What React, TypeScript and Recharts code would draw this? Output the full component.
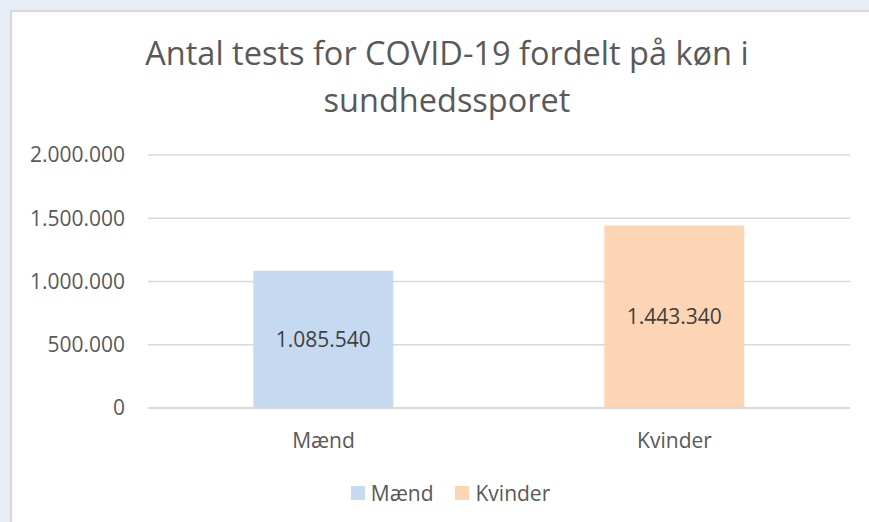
import React from "react";
import { BarChart, Bar, XAxis, YAxis, CartesianGrid, LabelList } from "recharts";

const categories = ["Mænd", "Kvinder"];
const tests = [1085540, 1443340];
const yTicks = [0, 500000, 1000000, 1500000, 2000000];
const seriesColors = ["#c5d9f1", "#fcd5b4"];

const FONT = "'Open Sans', sans-serif";
const GREY = "#595959";

// dansk tusindtalsseparator
const fmt = (v: unknown) => {
  if (v === null || v === undefined || v === "") return "";
  return String(v).replace(/\B(?=(\d{3})+(?!\d))/g, ".");
};

// hver kategori som sin egen serie, stablet, så bjælken står midt i kategorien
const rows = categories.map((c, i) => {
  const row: Record<string, string | number | null> = { name: c };
  categories.forEach((k) => {
    row[k] = k === c ? tests[i] : null;
  });
  return row;
});

// legenden tegnes udenfor diagrammet, så den ikke skubber plotområdet op
function LegendRow() {
  return (
    <div
      style={{
        position: "absolute",
        left: 16,
        top: 479,
        width: 869,
        display: "flex",
        justifyContent: "center",
        alignItems: "center",
        gap: 22,
        fontFamily: FONT,
        fontSize: 21,
        color: GREY,
      }}
    >
      {categories.map((c, i) => (
        <div key={c} style={{ display: "flex", alignItems: "center" }}>
          <span style={{ display: "inline-block", width: 14, height: 14, background: seriesColors[i], marginRight: 6 }} />
          <span style={{ lineHeight: "28px" }}>{c}</span>
        </div>
      ))}
    </div>
  );
}

export default function App() {
  return (
    <div style={{ position: "absolute", left: 0, top: 0, width: 869, height: 522, overflow: "hidden", background: "#e7edf6" }}>
      <div style={{ position: "absolute", left: 10, top: 10, width: 900, height: 560, background: "#fff", border: "2px solid #d9d9d9", boxSizing: "border-box" }} />
      <div
        style={{
          position: "absolute",
          left: 10,
          top: 29,
          width: 874,
          textAlign: "center",
          fontFamily: FONT,
          fontSize: 32.5,
          lineHeight: "47px",
          color: GREY,
        }}
      >
        Antal tests for COVID-19 fordelt på køn i<br />
        sundhedssporet
      </div>
      <div style={{ position: "absolute", left: 0, top: 0 }}>
        <BarChart width={869} height={522} data={rows} margin={{ top: 155, right: 19, bottom: 84, left: 0 }} barCategoryGap="30%">
          <CartesianGrid vertical={false} stroke="#d9d9d9" strokeWidth={1.3} />
          <XAxis
            dataKey="name"
            height={30}
            axisLine={{ stroke: "#d9d9d9", strokeWidth: 2 }}
            tickLine={false}
            tickSize={0}
            tickMargin={25}
            tick={{ fill: GREY, fontSize: 21, fontFamily: FONT }}
          />
          <YAxis
            width={148}
            domain={[0, 2000000]}
            ticks={yTicks}
            axisLine={false}
            tickLine={false}
            tickSize={0}
            tickMargin={23}
            tickFormatter={fmt}
            tick={{ fill: GREY, fontSize: 21, fontFamily: FONT }}
          />
          {categories.map((c, i) => (
            <Bar key={c} dataKey={c} stackId="t" fill={seriesColors[i]} isAnimationActive={false}>
              <LabelList dataKey={c} position="center" formatter={fmt} fill="#404040" fontSize={21} fontFamily={FONT} />
            </Bar>
          ))}
        </BarChart>
      </div>
      <LegendRow />
    </div>
  );
}
